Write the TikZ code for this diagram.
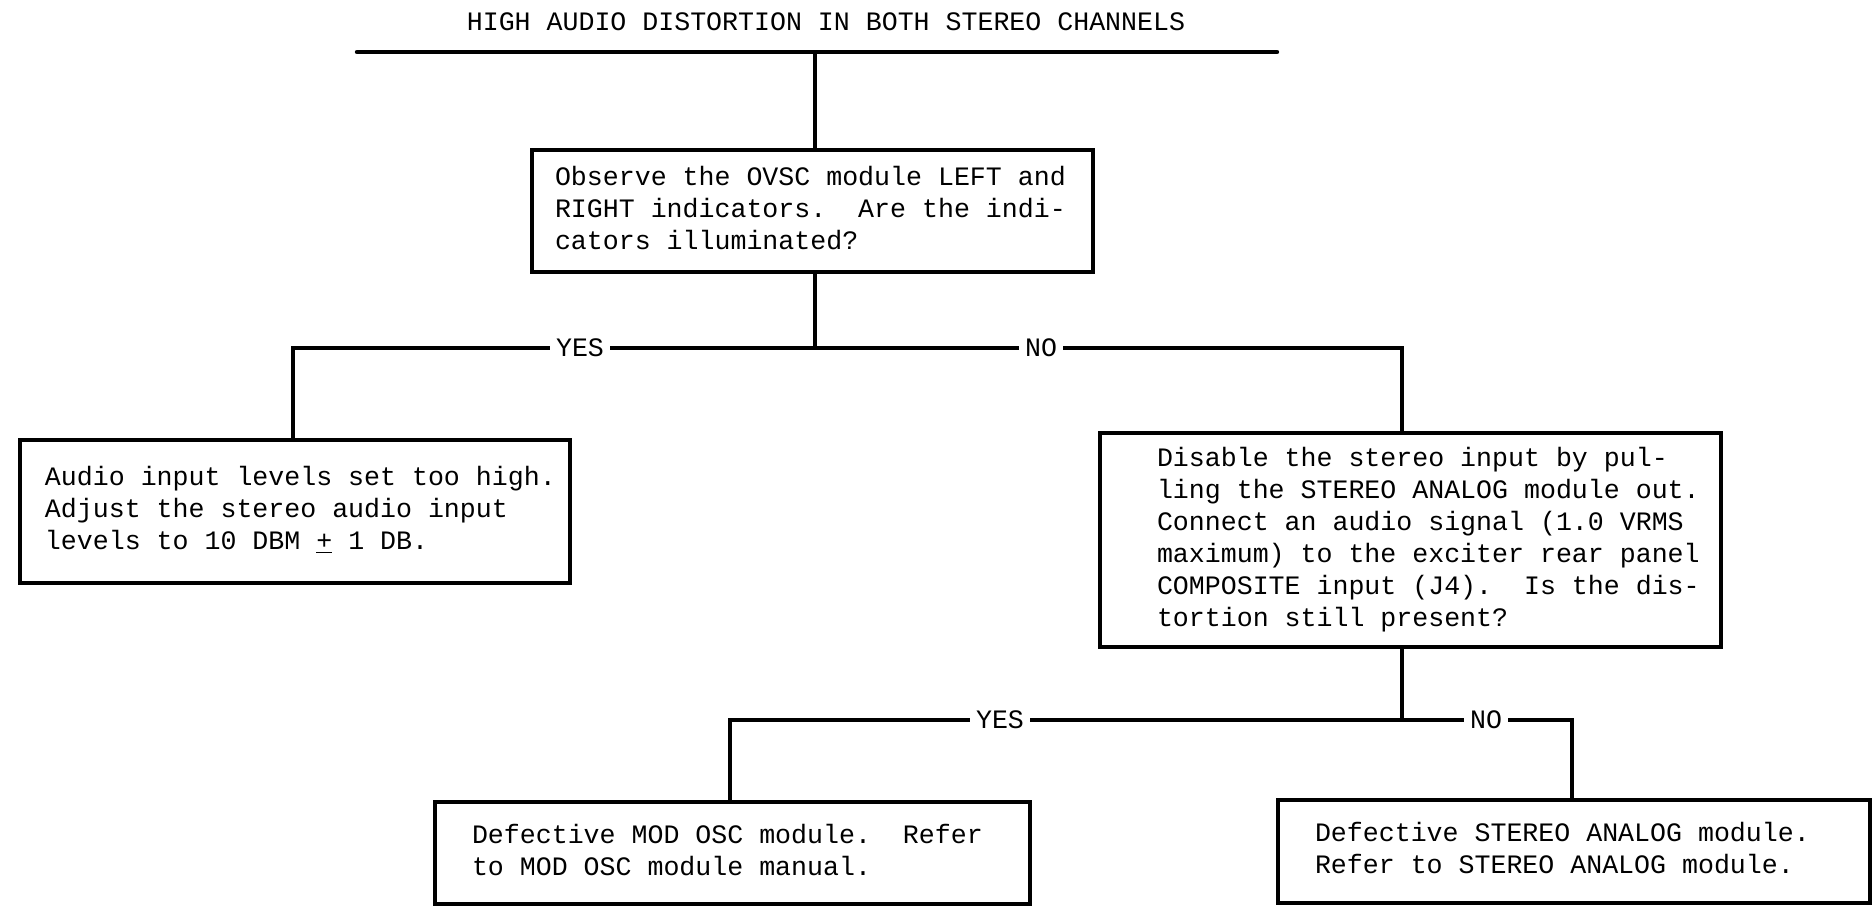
\documentclass[tikz,border=0pt]{standalone}
\usepackage{fontspec}
\newfontfamily\typer{Liberation Mono}
\newcommand{\boxtext}[2]{\makebox[#1][l]{\begin{tabular}{@{}l@{}}#2\end{tabular}}}
\begin{document}
\begin{tikzpicture}[x=0.5pt,y=-0.5pt,
  txt/.style={font=\typer\fontsize{13.3}{16}\selectfont},
  box/.style={draw, line width=2.4pt, fill=white, inner sep=0pt, txt},
  conn/.style={line width=2.2pt},
  lbl/.style={fill=white, inner xsep=3pt, inner ysep=1pt, txt}]
\useasboundingbox (0,0) rectangle (1876,906);
\fill[white] (0,0) rectangle (1876,906);
% title
\node[txt, inner sep=0pt] (T) at (826,22) {HIGH AUDIO DISTORTION IN BOTH STEREO CHANNELS};
% junction coordinates
\coordinate (tl) at (357,52);
\coordinate (tr) at (1277,52);
\coordinate (t1) at (815,52);
\coordinate (h1) at (815,348);
\coordinate (h1l) at (293,348);
\coordinate (h1r) at (1402,348);
\coordinate (h2) at (1402,720);
\coordinate (h2l) at (730,720);
\coordinate (h2r) at (1572,720);
% boxes
\node[box, minimum width=280.5pt, minimum height=61pt] (B1) at (812.5,211)
  {\boxtext{257.5pt}{Observe the OVSC module LEFT and\\RIGHT indicators.~~Are the indi-\\cators illuminated?}};
\node[box, minimum width=275pt, minimum height=71.5pt] (B2) at (295,511.5)
  {\boxtext{250pt}{Audio input levels set too high.\\Adjust the stereo audio input\\levels to 10 DBM \underline{+} 1 DB.}};
\node[box, minimum width=310.5pt, minimum height=107pt] (B3) at (1410.5,540)
  {\boxtext{253.5pt}{Disable the stereo input by pul-\\ling the STEREO ANALOG module out.\\Connect an audio signal (1.0 VRMS\\maximum) to the exciter rear panel\\COMPOSITE input (J4).~~Is the dis-\\tortion still present?}};
\node[box, minimum width=297.5pt, minimum height=51pt] (B4) at (732.5,853)
  {\boxtext{260.5pt}{Defective MOD OSC module.~~Refer\\to MOD OSC module manual.}};
\node[box, minimum width=296pt, minimum height=51.5pt] (B5) at (1574,851.5)
  {\boxtext{259pt}{Defective STEREO ANALOG module.\\Refer to STEREO ANALOG module.}};
% connectors
\draw[conn, line cap=round] (tl) -- (tr);
\draw[conn] (t1) -- (t1 |- B1.north);
\draw[conn] (h1 |- B1.south) -- (h1);
\draw[conn] (h1l |- B2.north) -- (h1l) -- (h1r) -- (h1r |- B3.north);
\draw[conn] (h2 |- B3.south) -- (h2);
\draw[conn] (h2l |- B4.north) -- (h2l) -- (h2r) -- (h2r |- B5.north);
% labels
\node[lbl] (Y1) at (580,348) {YES};
\node[lbl] (N1) at (1041,348) {NO};
\node[lbl] (Y2) at (1000,720) {YES};
\node[lbl] (N2) at (1486,720) {NO};
\end{tikzpicture}
\end{document}
